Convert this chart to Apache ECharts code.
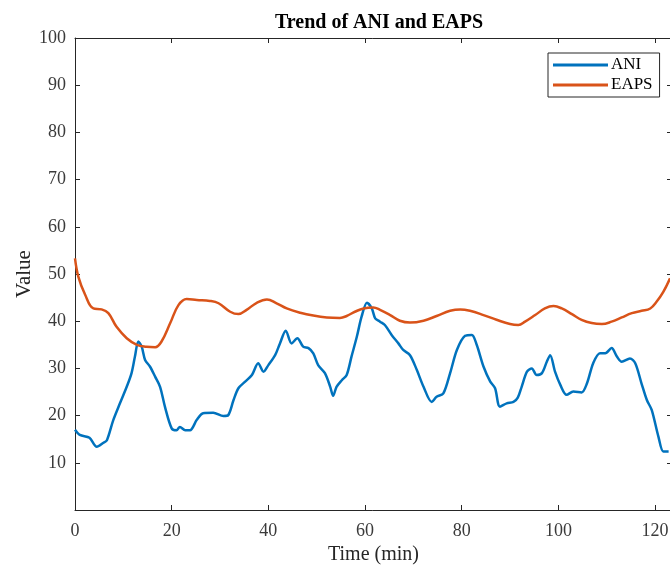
<!DOCTYPE html>
<html>
<head>
<meta charset="utf-8">
<script src="https://cdn.jsdelivr.net/npm/echarts@6/dist/echarts.min.js"></script>
<style>html,body{margin:0;padding:0;background:#fff}#c{width:670px;height:565px}</style>
</head>
<body>
<div id="c"></div>
<script>
const chartTitle = "Trend of ANI and EAPS";
const xName = "Time (min)";
const yName = "Value";
const seriesNames = ["ANI", "EAPS"];
const xTicks = [0, 20, 40, 60, 80, 100, 120];
const yTicks = [10, 20, 30, 40, 50, 60, 70, 80, 90, 100];

const aniTime = [0,1,3,4.5,5.8,6.6,7.9,9.3,10.7,11.7,12.4,13.1,13.8,14.5,15.5,16.6,17.6,18.6,20,21,21.7,22.8,23.8,25.2,26.5,28.6,30.7,31.7,32.8,33.8,35.2,36.6,37.9,39,40,41.4,42.4,43.6,44.8,46,47.2,48.3,49.3,50.3,51.7,52.8,53.4,54.1,55.2,56.2,57.2,58.3,59.3,60.4,61.4,62.1,63.1,64.1,65.5,66.9,67.9,69.3,70.7,72.1,73.8,74.8,76.2,77.6,79,80.7,82.1,83.1,84.5,85.9,86.9,87.9,89.3,90.7,91.6,92.4,93.5,94.5,95.5,96.6,97.6,98.3,99.3,100.4,101.7,103.1,104.8,105.9,107.2,108.6,109.7,111,112.1,113.1,114.8,115.9,117.2,118.3,119.3,120.7,121.7,122.8];
const aniValue = [17,15.9,15.3,13.4,14.2,14.8,19,22.6,26.1,29,32.5,35.7,34.6,31.8,30.4,28.2,26.1,21.9,17.3,16.9,17.6,16.9,16.9,19.1,20.5,20.6,19.9,20.1,23.3,25.8,27.2,28.6,31.1,29.3,30.7,32.8,35.3,38,35.3,36.4,34.6,34.3,33.2,30.7,29,26.1,24.2,26.1,27.5,28.6,32.5,36.7,41,43.9,42.7,40.6,39.9,39.2,37.1,35.3,33.9,32.8,29.7,26.1,22.9,24,24.7,29,33.9,36.9,37.1,35,30.4,27.2,25.8,21.9,22.6,22.9,23.8,26.1,29.3,30,28.6,29,31.4,32.8,29.3,26.5,24.4,25.1,24.9,26.8,31.1,33.2,33.2,34.3,32.5,31.4,32.1,31.1,26.8,23.3,21.2,15.5,12.4,12.4];

const eapsTime = [0,0.7,2.1,3.8,5.5,6.9,8.6,10.7,12.8,14.8,16.6,17.9,19.7,21.4,23.1,25.2,27.9,29.7,32.1,33.8,35.5,37.6,39.7,41.7,43.8,46.6,49.3,52.1,54.8,56.2,57.9,59.7,61.7,63.1,65.2,67.2,69.3,72.1,74.8,77.6,79.7,81.7,84.5,87.2,90,91.7,93.1,95.2,97.2,99,100.7,102.8,104.8,106.9,109,111,113.1,115.2,117.2,119,120.3,121.7,123.1];
const eapsValue = [53.3,49.4,45.6,42.7,42.5,41.7,38.8,36.4,35,34.6,34.5,35.7,39.6,43.4,44.7,44.5,44.3,43.8,42,41.5,42.4,43.9,44.6,43.8,42.7,41.8,41.2,40.8,40.7,41.1,42,42.7,42.9,42.4,41.3,40.1,39.7,40.1,41.1,42.2,42.5,42.2,41.3,40.3,39.4,39.2,39.9,41.3,42.7,43.2,42.7,41.5,40.3,39.6,39.4,39.9,40.8,41.7,42.2,42.7,44.1,46.2,49.1];

const serif = "'Liberation Serif', 'DejaVu Serif', serif";
const axisColor = '#262626';
const labelColor = '#3a3a3a';
const pair = (xs, ys) => xs.map((x, i) => [x, ys[i]]);

const chart = echarts.init(document.getElementById('c'), null, {renderer: 'canvas'});
const xMin = 0, xMax = 123.5;
const baseX = {
  type: 'value', min: xMin, max: xMax, interval: 20,
  axisLine: {show: true, onZero: false, lineStyle: {color: axisColor, width: 1}},
  axisTick: {show: true, inside: true, length: 5, lineStyle: {color: axisColor}},
  splitLine: {show: false}
};
const baseY = {
  type: 'value', min: 0, max: 100, interval: 10,
  axisLine: {show: true, onZero: false, lineStyle: {color: axisColor, width: 1}},
  axisTick: {show: true, inside: true, length: 5, lineStyle: {color: axisColor}},
  splitLine: {show: false}
};
chart.setOption({
  animation: false,
  backgroundColor: '#fff',
  title: {
    text: chartTitle, left: 374, textAlign: 'center', top: 8,
    textStyle: {fontFamily: serif, fontSize: 20, fontWeight: 'bold', color: '#000'}
  },
  legend: {
    data: seriesNames, orient: 'vertical', left: 548, top: 53,
    icon: 'rect', itemWidth: 55, itemHeight: 3, itemGap: 2,
    padding: [3, 7, 3, 5],
    borderColor: '#262626', borderWidth: 1, borderRadius: 0, backgroundColor: '#fff',
    textStyle: {fontFamily: serif, fontSize: 17, color: '#000', lineHeight: 18, padding: [0, 0, 0, -2]}
  },
  grid: {left: 75, right: -2, top: 38, bottom: 55, containLabel: false, outerBoundsMode: 'none'},
  xAxis: [
    Object.assign({}, baseX, {
      position: 'bottom',
      name: xName, nameLocation: 'middle', nameGap: 35, nameMoveOverlap: false,
      nameTextStyle: {fontFamily: serif, fontSize: 20, color: axisColor},
      axisLabel: {fontFamily: serif, fontSize: 18, color: labelColor, margin: 12,
        showMaxLabel: false,
        formatter: v => xTicks.indexOf(v) >= 0 ? String(v) : ''}
    }),
    Object.assign({}, baseX, {position: 'top', axisLabel: {show: false}})
  ],
  yAxis: [
    Object.assign({}, baseY, {
      position: 'left',
      name: yName, nameLocation: 'middle', nameGap: 40, nameRotate: 90, nameMoveOverlap: false,
      nameTextStyle: {fontFamily: serif, fontSize: 21, color: axisColor},
      axisLabel: {fontFamily: serif, fontSize: 18, color: labelColor, margin: 9,
        formatter: v => yTicks.indexOf(v) >= 0 ? String(v) : ''}
    }),
    Object.assign({}, baseY, {position: 'right', axisLabel: {show: false}})
  ],
  series: [
    {
      name: seriesNames[0], type: 'line', data: pair(aniTime, aniValue),
      showSymbol: false, symbol: 'none', smooth: 0.3,
      lineStyle: {color: '#0072BD', width: 2.5}, itemStyle: {color: '#0072BD'}
    },
    {
      name: seriesNames[1], type: 'line', data: pair(eapsTime, eapsValue),
      showSymbol: false, symbol: 'none', smooth: 0.4,
      lineStyle: {color: '#D95319', width: 2.5}, itemStyle: {color: '#D95319'}
    }
  ]
});
</script>
</body>
</html>
